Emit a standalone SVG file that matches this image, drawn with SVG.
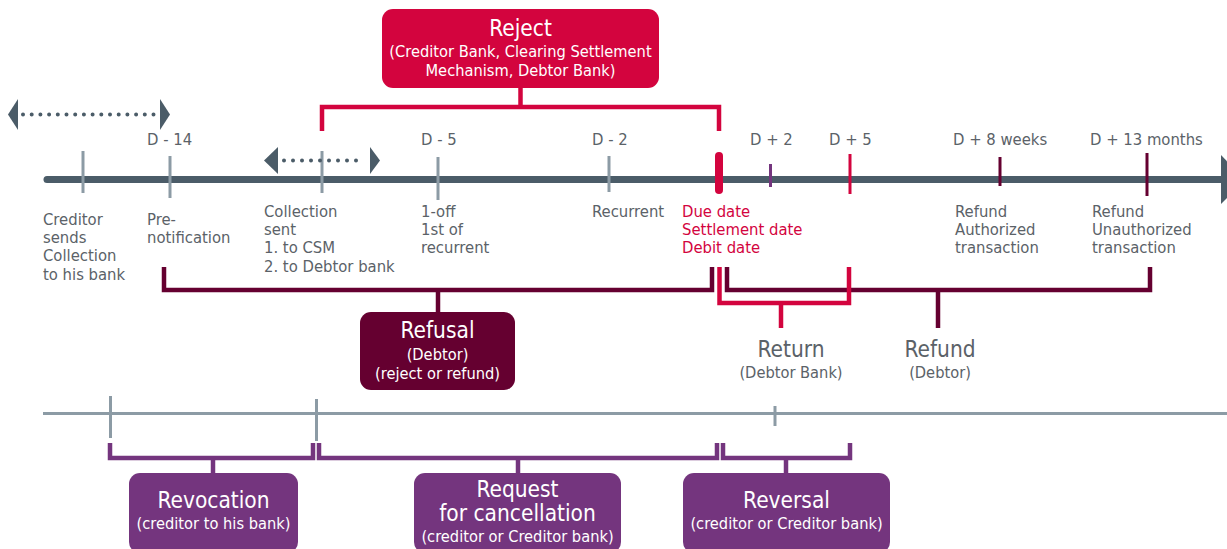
<svg xmlns="http://www.w3.org/2000/svg" width="1227" height="549" viewBox="0 0 1227 549">
<style>
text{font-family:"DejaVu Sans Condensed","DejaVu Sans",sans-serif;}
.lbl{font-size:16.5px;fill:#5b6268;}
.red{fill:#d3043e;}
.ttl{font-size:22.5px;fill:#fff;text-anchor:middle;}
.sub{font-size:16.3px;fill:#fff;text-anchor:middle;}
.gt{font-size:22.5px;fill:#5b6268;text-anchor:middle;}
.gs{font-size:16.3px;fill:#5b6268;text-anchor:middle;}
.tick{stroke:#8c9ba5;stroke-width:3;fill:none;}
.br{fill:none;stroke-width:4.5;stroke-linecap:butt;stroke-linejoin:miter;}
.dot{fill:#4b5c68;}
</style>
<rect width="1227" height="549" fill="#fff"/>

<!-- main timeline -->
<g id="timeline">
<line x1="47" y1="179.5" x2="1224" y2="179.5" stroke="#4b5c68" stroke-width="7" stroke-linecap="round"/>
<polygon points="1221,155 1245,179.5 1221,204" fill="#4b5c68"/>
<line class="tick" x1="83" y1="151" x2="83" y2="193"/>
<line class="tick" x1="170" y1="156" x2="170" y2="198"/>
<line class="tick" x1="322" y1="151" x2="322" y2="193"/>
<line class="tick" x1="438" y1="157" x2="438" y2="200"/>
<line class="tick" x1="609" y1="156" x2="609" y2="192"/>
<line x1="719" y1="156" x2="719" y2="190" stroke="#d3043e" stroke-width="8" stroke-linecap="round"/>
<line x1="770.5" y1="164" x2="770.5" y2="187" stroke="#74357e" stroke-width="3"/>
<line x1="850" y1="154" x2="850" y2="194" stroke="#d3043e" stroke-width="3"/>
<line x1="1000" y1="157" x2="1000" y2="186" stroke="#650030" stroke-width="3"/>
<line x1="1147" y1="153" x2="1147" y2="196" stroke="#650030" stroke-width="3"/>
</g>

<!-- dotted double arrows -->
<g id="period1">
<polygon points="8,114.5 18,99 18,130" class="dot"/>
<polygon points="170,114.5 160,99 160,130" class="dot"/>
<line x1="23" y1="114.5" x2="154" y2="114.5" stroke="#4b5c68" stroke-width="4" stroke-linecap="round" stroke-dasharray="0 8.7"/>
</g>
<g id="period2">
<polygon points="264,160.5 278,147 278,174" class="dot"/>
<polygon points="380,160.5 370,147 370,174" class="dot"/>
<line x1="284" y1="160.5" x2="365" y2="160.5" stroke="#4b5c68" stroke-width="4" stroke-linecap="round" stroke-dasharray="0 9"/>
</g>

<!-- top labels -->
<g id="top-labels" class="lbl">
<text x="147" y="145">D - 14</text>
<text x="421" y="145">D - 5</text>
<text x="592" y="145">D - 2</text>
<text x="750" y="145">D + 2</text>
<text x="829" y="145">D + 5</text>
<text x="953" y="145">D + 8 weeks</text>
<text x="1090" y="145">D + 13 months</text>
</g>

<!-- bottom labels -->
<g id="bottom-labels" class="lbl">
<text x="43" y="225">Creditor</text>
<text x="43" y="243">sends</text>
<text x="43" y="261">Collection</text>
<text x="43" y="280">to his bank</text>
<text x="147" y="225">Pre-</text>
<text x="147" y="243">notification</text>
<text x="264" y="217">Collection</text>
<text x="264" y="235">sent</text>
<text x="264" y="253">1. to CSM</text>
<text x="264" y="272">2. to Debtor bank</text>
<text x="421" y="217">1-off</text>
<text x="421" y="235">1st of</text>
<text x="421" y="253">recurrent</text>
<text x="592" y="217">Recurrent</text>
<text x="682" y="217" class="red">Due date</text>
<text x="682" y="235" class="red">Settlement date</text>
<text x="682" y="253" class="red">Debit date</text>
<text x="955" y="217">Refund</text>
<text x="955" y="235">Authorized</text>
<text x="955" y="253">transaction</text>
<text x="1092" y="217">Refund</text>
<text x="1092" y="235">Unauthorized</text>
<text x="1092" y="253">transaction</text>
</g>

<!-- connectors -->
<g id="connectors">
<polyline class="br" stroke="#d3043e" points="322,131 322,107 719,107 719,131"/>
<line class="br" stroke="#d3043e" x1="520.5" y1="88" x2="520.5" y2="107"/>
<polyline class="br" stroke="#650030" points="164,267 164,290 712,290 712,267"/>
<line class="br" stroke="#650030" x1="438" y1="290" x2="438" y2="312"/>
<polyline class="br" stroke="#650030" points="727,267 727,290 1150,290 1150,267"/>
<line class="br" stroke="#650030" x1="938" y1="290" x2="938" y2="328"/>
<polyline class="br" stroke="#d3043e" points="719.5,267 719.5,303 849,303 849,267"/>
<line class="br" stroke="#d3043e" x1="781" y1="303" x2="781" y2="328"/>
<polyline class="br" stroke="#74357e" points="110,443 110,458 313,458 313,443"/>
<line class="br" stroke="#74357e" x1="213" y1="458" x2="213" y2="474"/>
<polyline class="br" stroke="#74357e" points="319,443 319,458 717,458 717,443"/>
<line class="br" stroke="#74357e" x1="518" y1="458" x2="518" y2="474"/>
<polyline class="br" stroke="#74357e" points="723,443 723,458 850,458 850,443"/>
<line class="br" stroke="#74357e" x1="786" y1="458" x2="786" y2="474"/>
</g>

<!-- lower timeline -->
<g id="lower-timeline">
<line x1="43" y1="413.5" x2="1227" y2="413.5" stroke="#8c9ba5" stroke-width="3"/>
<line class="tick" x1="110.5" y1="396" x2="110.5" y2="438"/>
<line class="tick" x1="316.5" y1="399" x2="316.5" y2="441"/>
<line class="tick" x1="775" y1="406" x2="775" y2="426"/>
</g>

<g id="reject">
<rect x="382" y="9" width="277" height="79" rx="11" fill="#d3043e"/>
<text class="ttl" x="520.5" y="36">Reject</text>
<text class="sub" x="520.5" y="57">(Creditor Bank, Clearing Settlement</text>
<text class="sub" x="520.5" y="76">Mechanism, Debtor Bank)</text>
</g>

<g id="refusal">
<rect x="360" y="312" width="155" height="78" rx="11" fill="#650030"/>
<text class="ttl" x="437.5" y="338">Refusal</text>
<text class="sub" x="437.5" y="360">(Debtor)</text>
<text class="sub" x="437.5" y="379">(reject or refund)</text>
</g>

<g id="return">
<text class="gt" x="791" y="357">Return</text>
<text class="gs" x="791" y="378">(Debtor Bank)</text>
</g>

<g id="refund">
<text class="gt" x="940" y="357">Refund</text>
<text class="gs" x="940" y="378">(Debtor)</text>
</g>

<g id="revocation">
<rect x="129" y="473" width="169" height="80" rx="11" fill="#74357e"/>
<text class="ttl" x="213.5" y="508">Revocation</text>
<text class="sub" x="213.5" y="529">(creditor to his bank)</text>
</g>

<g id="cancellation">
<rect x="414" y="473" width="207" height="80" rx="11" fill="#74357e"/>
<text class="ttl" x="517.5" y="497">Request</text>
<text class="ttl" x="517.5" y="521">for cancellation</text>
<text class="sub" x="517.5" y="542">(creditor or Creditor bank)</text>
</g>

<g id="reversal">
<rect x="683" y="473" width="207" height="80" rx="11" fill="#74357e"/>
<text class="ttl" x="786.5" y="508">Reversal</text>
<text class="sub" x="786.5" y="529">(creditor or Creditor bank)</text>
</g>
</svg>
